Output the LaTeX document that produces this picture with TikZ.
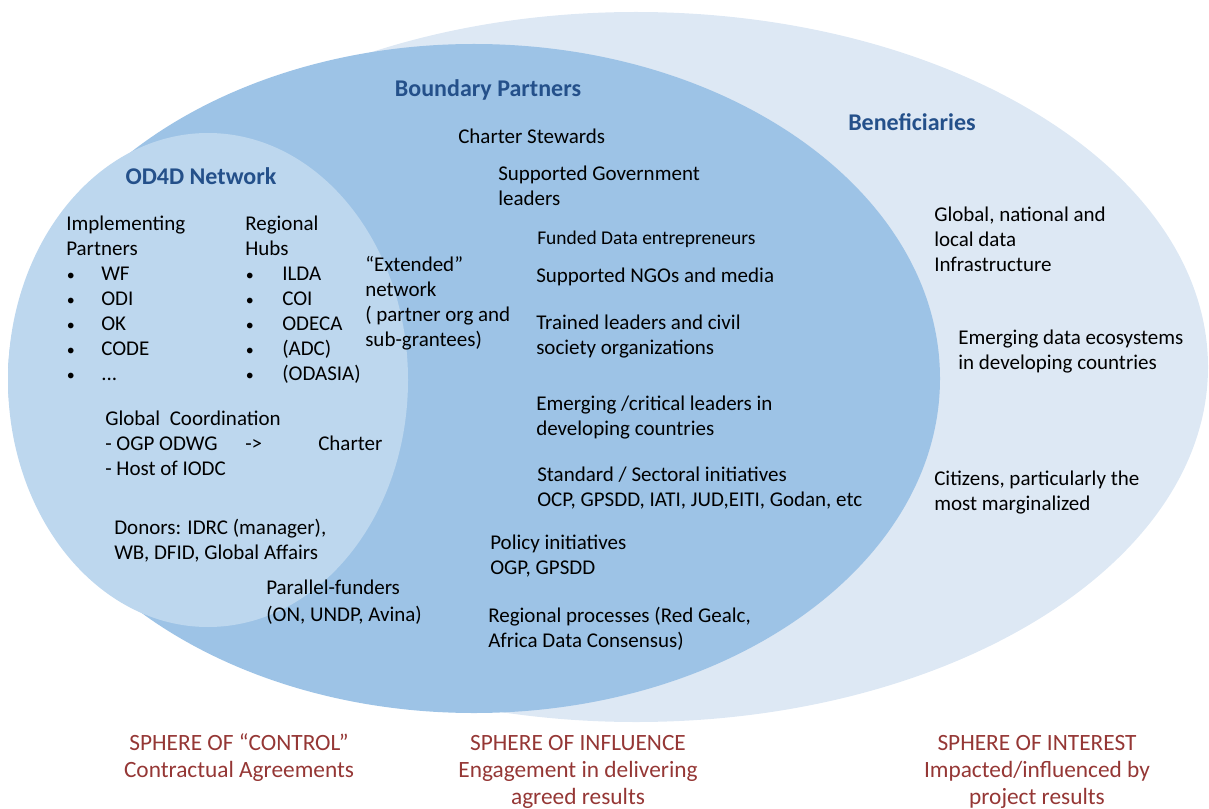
\documentclass[tikz,border=0pt]{standalone}
\usepackage{fontspec}
\setmainfont{Carlito}
\definecolor{outerfill}{HTML}{DDE8F4}
\definecolor{midfill}{HTML}{9DC3E6}
\definecolor{innerfill}{HTML}{BDD7EE}
\definecolor{titleblue}{HTML}{24508A}
\definecolor{sphered}{HTML}{953735}
\newcommand{\bulA}{\hbox to 26.25pt{\hskip0.5pt{\fontsize{12}{12}\selectfont •}\hss}}
\newcommand{\bulB}{\hbox to 27.75pt{\hskip0.5pt{\fontsize{12}{12}\selectfont •}\hss}}
\begin{document}
\begin{tikzpicture}[x=0.75pt,y=-0.75pt,
  body/.style={anchor=base west, inner sep=0pt, align=left, text=black,
    font=\fontsize{15.75}{18.75}\selectfont},
  small/.style={body, font=\fontsize{14.6}{18.75}\selectfont},
  title/.style={anchor=base, inner sep=0pt, text=titleblue,
    font=\fontsize{18}{21}\selectfont\bfseries},
  sphere/.style={anchor=base, inner sep=0pt, align=center, text=sphered,
    font=\fontsize{17.5}{20.25}\selectfont}]
\useasboundingbox (0,0) rectangle (1209,809);
% spheres
\fill[outerfill] (636,367) ellipse [x radius=572, y radius=355];
\fill[midfill] (474,378.5) ellipse [x radius=466, y radius=334.5];
\fill[innerfill] (208,380) ellipse [x radius=200, y radius=247];
% titles
\node[title] (bp) at (488,97) {Boundary Partners};
\node[title] (ben) at (912,131) {Beneficiaries};
\node[title] (od4d) at (201,185) {OD4D Network};
% OD4D network content (anchors at the baseline of the last line)
\node[body] (impl) at (66,380) {Implementing\\Partners\\
  \bulA WF\\ \bulA ODI\\ \bulA OK\\ \bulA CODE\\ \bulA ...};
\node[body] (hubs) at (245,380) {Regional\\Hubs\\
  \bulB ILDA\\ \bulB COI\\ \bulB ODECA\\ \bulB (ADC)\\ \bulB (ODASIA)};
\node[body] (ext) at (365,346) {“Extended”\\network\\( partner org and\\sub-grantees)};
\node[body] (glob) at (105,475) {Global\ \ Coordination\\
  \makebox[105pt][l]{- OGP ODWG}\makebox[54.75pt][l]{->}Charter\\
  - Host of IODC};
\node[body] (donors) at (114,559) {Donors: IDRC (manager),\\WB, DFID, Global Affairs};
\node[body, font=\fontsize{15.75}{20.25}\selectfont] (par) at (266,621) {Parallel-funders\\(ON, UNDP, Avina)};
% boundary partners content
\node[body] (cs) at (458,144) {Charter Stewards};
\node[body] (sg) at (498,206) {Supported Government\\leaders};
\node[small] (fd) at (537,245) {Funded Data entrepreneurs};
\node[body] (ngo) at (536,282) {Supported NGOs and media};
\node[body] (tl) at (536,354) {Trained leaders and civil\\society organizations};
\node[body] (el) at (536,435) {Emerging /critical leaders in\\developing countries};
\node[body] (ss) at (537,506) {Standard / Sectoral initiatives\\OCP, GPSDD, IATI, JUD,EITI, Godan, etc};
\node[body] (pi) at (490,574) {Policy initiatives\\OGP, GPSDD};
\node[body] (rp) at (488,647) {Regional processes (Red Gealc,\\Africa Data Consensus)};
% beneficiaries content
\node[body] (gn) at (934,272) {Global, national and\\local data\\Infrastructure};
\node[body] (eco) at (958,369) {Emerging data ecosystems\\in developing countries};
\node[body] (cit) at (934,510) {Citizens, particularly the\\most marginalized};
% sphere labels
\node[sphere] (sc) at (239,777) {SPHERE OF “CONTROL”\\Contractual Agreements};
\node[sphere] (sinf) at (578,804) {SPHERE OF INFLUENCE\\Engagement in delivering\\agreed results};
\node[sphere] (sint) at (1037,804) {SPHERE OF INTEREST\\Impacted/influenced by\\project results};
\end{tikzpicture}
\end{document}
